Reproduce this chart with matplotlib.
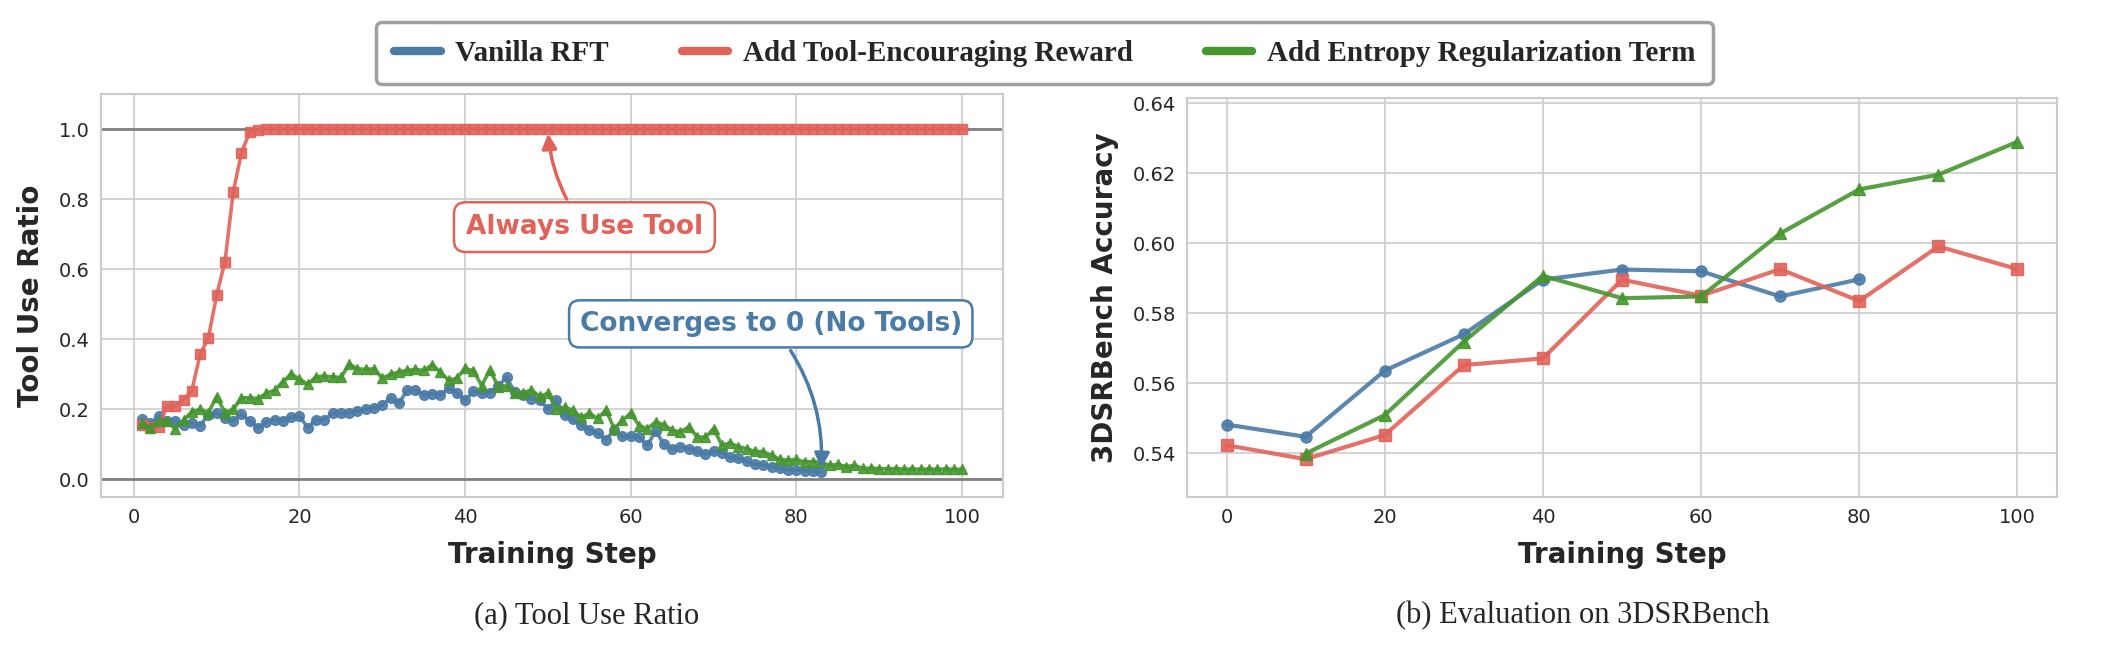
import matplotlib.pyplot as plt
import seaborn as sns
import numpy as np

# --------------------------
# Data
# --------------------------
steps = np.arange(1, 101)

vanilla_ratio = [
    0.172, 0.160, 0.181, 0.167, 0.167, 0.155, 0.161, 0.153, 0.185, 0.191,
    0.174, 0.167, 0.186, 0.167, 0.148, 0.164, 0.171, 0.167, 0.177, 0.181,
    0.148, 0.171, 0.171, 0.189, 0.189, 0.190, 0.195, 0.201, 0.203, 0.212,
    0.233, 0.217, 0.255, 0.255, 0.241, 0.245, 0.241, 0.260, 0.248, 0.226,
    0.252, 0.247, 0.248, 0.267, 0.291, 0.249, 0.240, 0.231, 0.228, 0.201,
    0.226, 0.184, 0.172, 0.155, 0.142, 0.132, 0.114, 0.140, 0.123, 0.123,
    0.121, 0.097, 0.139, 0.100, 0.087, 0.093, 0.088, 0.081, 0.072, 0.081,
    0.076, 0.063, 0.060, 0.052, 0.044, 0.040, 0.037, 0.032, 0.028, 0.026,
    0.025, 0.024, 0.021,
]

tool_reward_ratio = [
    0.155, 0.150, 0.150, 0.209, 0.209, 0.228, 0.253, 0.357, 0.404, 0.526,
    0.621, 0.820, 0.933, 0.992, 0.998,
] + [1.0] * 85

entropy_ratio = [
    0.160, 0.148, 0.167, 0.167, 0.144, 0.169, 0.193, 0.200, 0.191, 0.236,
    0.191, 0.200, 0.233, 0.233, 0.231, 0.246, 0.255, 0.279, 0.301, 0.286,
    0.272, 0.293, 0.295, 0.293, 0.291, 0.329, 0.316, 0.314, 0.316, 0.289,
    0.300, 0.307, 0.311, 0.314, 0.311, 0.327, 0.307, 0.283, 0.289, 0.317,
    0.310, 0.268, 0.313, 0.264, 0.267, 0.246, 0.248, 0.255, 0.237, 0.246,
    0.202, 0.206, 0.198, 0.177, 0.189, 0.174, 0.198, 0.145, 0.169, 0.189,
    0.154, 0.145, 0.164, 0.156, 0.140, 0.136, 0.150, 0.122, 0.120, 0.145,
    0.098, 0.104, 0.093, 0.088, 0.080, 0.079, 0.069, 0.057, 0.055, 0.057,
    0.050, 0.051, 0.049, 0.040, 0.043, 0.037, 0.040, 0.032, 0.032, 0.031,
    0.030, 0.031, 0.029, 0.030, 0.029, 0.030, 0.029, 0.030, 0.029, 0.029,
]

eval_steps = [0, 10, 20, 30, 40, 50, 60, 70, 80, 90, 100]
vanilla_acc = [0.5482, 0.5447, 0.5636, 0.5740, 0.5896, 0.5925, 0.5920, 0.5848, 0.5897]
tool_reward_acc = [0.5423, 0.5383, 0.5452, 0.5652, 0.5671, 0.5896, 0.5850, 0.5926, 0.5835, 0.5991, 0.5926]
entropy_steps = [10, 20, 30, 40, 50, 60, 70, 80, 90, 100]
entropy_acc = [0.5399, 0.5509, 0.5719, 0.5907, 0.5843, 0.5848, 0.6028, 0.6154, 0.6196, 0.6290]

labels = ["Vanilla RFT", "Add Tool-Encouraging Reward", "Add Entropy Regularization Term"]
c_blue, c_red, c_green = "#4a7aa6", "#e0635a", "#46962e"

# --------------------------
# Figure
# --------------------------
sns.set_style("whitegrid")
plt.rcParams["font.family"] = ["DejaVu Sans"]

fig = plt.figure(figsize=(21.02, 6.5), dpi=100)
ax1 = fig.add_axes([0.0481, 0.2354, 0.4291, 0.6200])
ax2 = fig.add_axes([0.5647, 0.2354, 0.4139, 0.6138])

# (a) tool use ratio
ax1.axhline(0, color="#808080", lw=2, zorder=1)
ax1.axhline(1, color="#808080", lw=2, zorder=1)
ax1.plot(steps[:len(vanilla_ratio)], vanilla_ratio, color=c_blue, marker="o", ms=7, lw=2.6, alpha=0.9, zorder=3)
ax1.plot(steps, tool_reward_ratio, color=c_red, marker="s", ms=6.5, lw=2.6, alpha=0.9, zorder=3)
ax1.plot(steps, entropy_ratio, color=c_green, marker="^", ms=7.5, lw=2.6, alpha=0.9, zorder=3)
ax1.set_ylim(-0.05, 1.10)
ax1.set_xticks([0, 20, 40, 60, 80, 100])
ax1.set_yticks([0.0, 0.2, 0.4, 0.6, 0.8, 1.0])
ax1.set_xlabel("Training Step", fontsize=20, fontweight="bold", labelpad=10)
ax1.set_ylabel("Tool Use Ratio", fontsize=20, fontweight="bold", labelpad=10)

ax1.annotate("Always Use Tool", xy=(50, 0.995), xytext=(54.4, 0.72),
             fontsize=19, fontweight="bold", color=c_red, ha="center", va="center",
             bbox=dict(boxstyle="round,pad=0.45", fc="white", ec=c_red, lw=1.8),
             arrowprops=dict(arrowstyle="-|>", color=c_red, lw=2.5, mutation_scale=22,
                             connectionstyle="arc3,rad=-0.15"), zorder=5)
ax1.annotate("Converges to 0 (No Tools)", xy=(83, 0.024), xytext=(76.9, 0.444),
             fontsize=19, fontweight="bold", color=c_blue, ha="center", va="center",
             bbox=dict(boxstyle="round,pad=0.4", fc="white", ec=c_blue, lw=1.8),
             arrowprops=dict(arrowstyle="-|>", color=c_blue, lw=2.5, mutation_scale=22,
                             connectionstyle="arc3,rad=-0.2"), zorder=5)

# (b) evaluation
ax2.plot(eval_steps[:len(vanilla_acc)], vanilla_acc, color=c_blue, marker="o", ms=8, lw=3, alpha=0.9)
ax2.plot(eval_steps, tool_reward_acc, color=c_red, marker="s", ms=8, lw=3, alpha=0.9)
ax2.plot(entropy_steps, entropy_acc, color=c_green, marker="^", ms=8, lw=3, alpha=0.9)
ax2.set_ylim(0.5275, 0.6415)
ax2.set_xticks([0, 20, 40, 60, 80, 100])
ax2.set_yticks([0.54, 0.56, 0.58, 0.60, 0.62, 0.64])
ax2.set_xlabel("Training Step", fontsize=20, fontweight="bold", labelpad=10)
ax2.set_ylabel("3DSRBench Accuracy", fontsize=20, fontweight="bold", labelpad=10)

for ax in (ax1, ax2):
    ax.tick_params(labelsize=14, colors="#262626", length=0, pad=8)
    for s in ax.spines.values():
        s.set_color("#cccccc")
        s.set_linewidth(1.5)
    ax.grid(color="#d0d0d0", lw=1.3)

# legend
handles = [plt.Line2D([], [], color=c, lw=6) for c in (c_blue, c_red, c_green)]
leg = fig.legend(handles, labels, loc="center", bbox_to_anchor=(0.497, 0.918), ncol=3,
                 prop={"family": "Liberation Serif", "weight": "bold", "size": 21},
                 frameon=True, fancybox=True, handlelength=1.6, columnspacing=2.5,
                 borderpad=0.6, handletextpad=0.5)
leg.get_frame().set_edgecolor("#888888")
leg.get_frame().set_linewidth(2.5)

# captions
fig.text(0.279, 0.053, "(a) Tool Use Ratio", ha="center", va="center",
         fontsize=22, family="Liberation Serif")
fig.text(0.753, 0.053, "(b) Evaluation on 3DSRBench", ha="center", va="center",
         fontsize=22, family="Liberation Serif")

fig.savefig("out.png", dpi=100)
plt.close(fig)
